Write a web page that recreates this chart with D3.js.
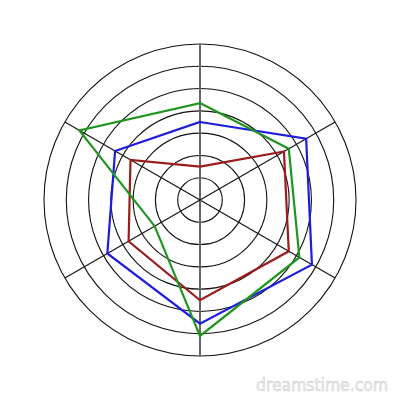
<!DOCTYPE html>
<html>
<head>
<meta charset="utf-8">
<script src="https://cdn.jsdelivr.net/npm/d3@7.9.0/dist/d3.min.js"></script>
<style>
  html, body { margin: 0; padding: 0; background: #fff; }
  svg { display: block; }
</style>
</head>
<body>
<svg width="400" height="400"></svg>
<script>
// axes go clockwise starting at the top
const axes = ['A', 'B', 'C', 'D', 'E', 'F'];
const ringLevels = [1, 2, 3, 4, 5, 6, 7];

const redValues = [1.5, 4.35, 4.6, 4.5, 3.7, 3.6];
const blueValues = [3.5, 5.5, 5.8, 5.55, 4.8, 4.4];
const greenValues = [4.35, 4.6, 5.15, 6.1, 2.35, 6.25];

const seriesColors = ['#9b1b1b', '#1c1ce0', '#1f951f'];

const cx = 200, cy = 200;
const svg = d3.select('svg');
const g = svg.append('g').attr('transform', `translate(${cx},${cy})`);

const r = d3.scaleLinear().domain([0, 7]).range([0, 156]);
const angle = d3.scalePoint().domain(axes.concat(['_'])).range([0, 2 * Math.PI]);

// rings
g.selectAll('circle.ring')
  .data(ringLevels)
  .join('circle')
  .attr('class', 'ring')
  .attr('r', d => r(d))
  .attr('fill', 'none')
  .attr('stroke', '#111')
  .attr('stroke-width', 1.1);

// spokes
g.selectAll('line.spoke')
  .data(axes)
  .join('line')
  .attr('class', 'spoke')
  .attr('x1', 0).attr('y1', 0)
  .attr('x2', d => Math.sin(angle(d)) * r(7))
  .attr('y2', d => -Math.cos(angle(d)) * r(7))
  .attr('stroke', (d, i) => i % 3 === 0 ? '#666' : '#111')
  .attr('stroke-width', (d, i) => i % 3 === 0 ? 2 : 1.1);

// series polygons
const line = d3.lineRadial()
  .angle((d, i) => angle(axes[i]))
  .radius(d => r(d))
  .curve(d3.curveLinearClosed);

[redValues, blueValues, greenValues].forEach((vals, idx) => {
  g.append('path')
    .attr('d', line(vals))
    .attr('fill', 'none')
    .attr('stroke', seriesColors[idx])
    .attr('stroke-width', 2.2)
    .attr('stroke-linejoin', 'miter');
});

// watermark
svg.append('text')
  .attr('x', 256).attr('y', 391)
  .attr('font-family', 'DejaVu Sans')
  .attr('font-size', 17)
  .attr('textLength', 132)
  .attr('lengthAdjust', 'spacingAndGlyphs')
  .attr('fill', '#f2f2f2')
  .attr('stroke', '#cfcfcf')
  .attr('stroke-width', 0.6)
  .text('dreamstime.com');
</script>
</body>
</html>
